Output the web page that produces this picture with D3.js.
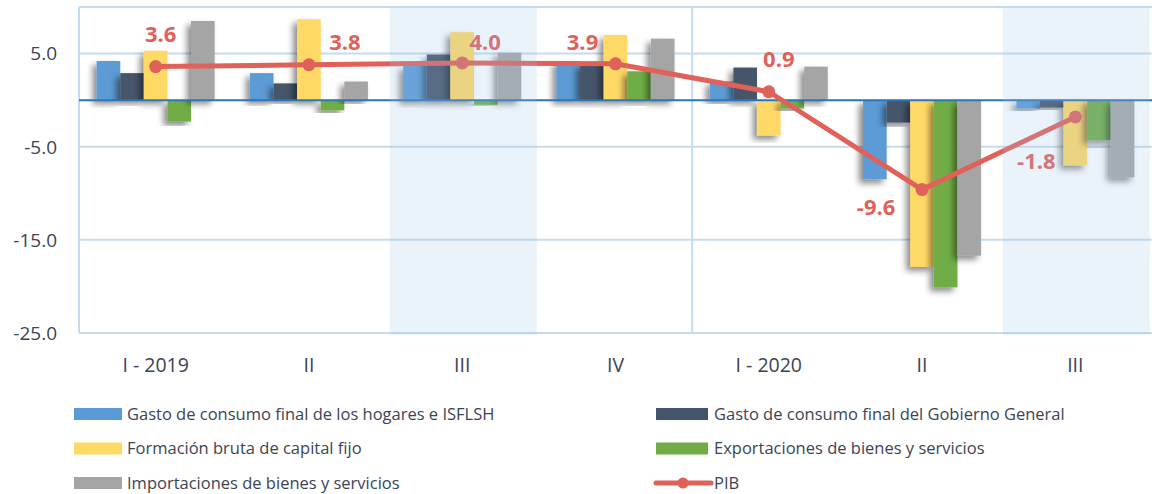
<!DOCTYPE html>
<html>
<head>
<meta charset="utf-8">
<script src="https://cdn.jsdelivr.net/npm/d3@7"></script>
<style>
  html, body { margin: 0; padding: 0; background: #fff; }
  svg { display: block; font-family: "Open Sans", "Noto Sans", sans-serif; }
</style>
</head>
<body>
<svg id="chart" width="1152" height="494"></svg>
<script>
// quarters
var categories = ["I - 2019", "II", "III", "IV", "I - 2020", "II", "III"];
var highlighted = [2, 6];

var seriesNames = [
  "Gasto de consumo final de los hogares e ISFLSH",
  "Gasto de consumo final del Gobierno General",
  "Formación bruta de capital fijo",
  "Exportaciones de bienes y servicios",
  "Importaciones de bienes y servicios"
];
var hogares     = [4.2, 2.9, 3.7, 4.2, 2.0, -8.5, -0.9];
var gobierno    = [2.9, 1.8, 4.9, 3.9, 3.5, -2.4, -0.8];
var formacion   = [5.3, 8.7, 7.3, 7.0, -3.8, -17.9, -7.0];
var exportacion = [-2.3, -1.1, -0.5, 3.1, -0.9, -20.1, -4.3];
var importacion = [8.5, 2.0, 5.1, 6.6, 3.6, -16.7, -8.3];
var pibName = "PIB";
var pib = [3.6, 3.8, 4.0, 3.9, 0.9, -9.6, -1.8];

var yTicks = [5, -5, -15, -25];

var colors = ["#5b9bd5", "#44546a", "#ffd966", "#70ad47", "#a5a5a5"];
var pibColor = "#e0615a";
var textColor = "#3c4454";

var series = [hogares, gobierno, formacion, exportacion, importacion];
var fmt = d => d.toFixed(1);

var svg = d3.select("#chart");
var margin = {top: 7, left: 79, right: 0, bottom: 161};
var W = 1152, H = 494;
var plotH = 333 - margin.top;

var x = d3.scaleBand().domain(d3.range(categories.length))
  .range([margin.left, W - margin.right]);
var xs = d3.scaleBand().domain(d3.range(series.length))
  .range([0, 118]);
var y = d3.scaleLinear().domain([-25, 10]).range([margin.top + plotH, margin.top]);

// shadow filter
var defs = svg.append("defs");
var f = defs.append("filter").attr("id", "shadow")
  .attr("x", "-50%").attr("y", "-20%").attr("width", "200%").attr("height", "140%");
f.append("feDropShadow").attr("dx", -4).attr("dy", 4).attr("stdDeviation", 3)
  .attr("flood-color", "#000").attr("flood-opacity", 0.45);

// gridlines
svg.append("g").selectAll("line")
  .data(yTicks.concat([10]))
  .enter().append("line")
  .attr("x1", margin.left).attr("x2", W)
  .attr("y1", d => y(d)).attr("y2", d => y(d))
  .attr("stroke", "#c5dcf0").attr("stroke-width", 2);

// left axis line
svg.append("line")
  .attr("x1", margin.left).attr("x2", margin.left)
  .attr("y1", y(10)).attr("y2", y(-25))
  .attr("stroke", "#c5dcf0").attr("stroke-width", 2);

// year separator
svg.append("line")
  .attr("x1", x(4)).attr("x2", x(4))
  .attr("y1", y(10)).attr("y2", y(-25))
  .attr("stroke", "#c5dcf0").attr("stroke-width", 2);

// bars
var groups = svg.append("g").selectAll("g.grp")
  .data(categories)
  .enter().append("g").attr("class", "grp")
  .attr("transform", (d, i) => "translate(" + (x(i) + (x.bandwidth() - 118) / 2) + ",0)");

series.forEach(function(s, k) {
  groups.append("rect")
    .attr("x", xs(k))
    .attr("width", xs.bandwidth())
    .attr("y", (d, i) => y(Math.max(0, s[i])))
    .attr("height", (d, i) => Math.abs(y(s[i]) - y(0)))
    .attr("fill", colors[k])
    .attr("filter", "url(#shadow)");
});

// zero line
svg.append("line")
  .attr("x1", margin.left).attr("x2", W)
  .attr("y1", y(0)).attr("y2", y(0))
  .attr("stroke", "#2e75b6").attr("stroke-width", 2);

// PIB line
var cx = i => x(i) + x.bandwidth() / 2;
var line = d3.line().x((d, i) => cx(i)).y(d => y(d));
svg.append("path").datum(pib)
  .attr("d", line).attr("fill", "none")
  .attr("stroke", pibColor).attr("stroke-width", 5);

svg.append("g").selectAll("circle")
  .data(pib).enter().append("circle")
  .attr("cx", (d, i) => cx(i)).attr("cy", d => y(d)).attr("r", 6.5)
  .attr("fill", pibColor);

// label nudges (dx, dy) from the point
var labelNudge = [[5, -25], [36, -15], [23, -13], [-33, -14], [10, -25], [-46, 25], [-39, 52]];
svg.append("g").selectAll("text")
  .data(pib).enter().append("text")
  .attr("x", (d, i) => cx(i) + labelNudge[i][0])
  .attr("y", (d, i) => y(d) + labelNudge[i][1])
  .attr("text-anchor", "middle")
  .attr("font-size", 22).attr("font-weight", "bold")
  .attr("fill", pibColor)
  .text(fmt);

// highlight bands (drawn on top, translucent)
svg.append("g").selectAll("rect")
  .data(highlighted).enter().append("rect")
  .attr("x", d => x(d) + x.bandwidth() / 2 - 73.5 + 1)
  .attr("width", 147)
  .attr("y", y(10) + 1)
  .attr("height", y(-25) - y(10) + 1)
  .attr("fill", "#9bc1e7").attr("opacity", 0.21);

// y tick labels
svg.append("g").selectAll("text")
  .data(yTicks).enter().append("text")
  .attr("x", 57).attr("y", d => y(d))
  .attr("dy", "0.36em")
  .attr("text-anchor", "end")
  .attr("font-size", 19).attr("fill", textColor)
  .text(fmt);

// x labels
svg.append("g").selectAll("text")
  .data(categories).enter().append("text")
  .attr("x", (d, i) => cx(i)).attr("y", 372)
  .attr("text-anchor", "middle")
  .attr("font-size", 19.5).attr("fill", textColor)
  .text(d => d);

// legend
var legendItems = seriesNames.map((n, k) => ({name: n, color: colors[k], type: "bar"}))
  .concat([{name: pibName, color: pibColor, type: "line"}]);
var legend = svg.append("g").selectAll("g")
  .data(legendItems).enter().append("g")
  .attr("transform", (d, i) => "translate(" + (i % 2 ? 656 : 74) + "," + (414 + Math.floor(i / 2) * 34.5) + ")");

legend.filter(d => d.type === "bar").append("rect")
  .attr("x", 0).attr("y", -6).attr("width", (d, i) => i % 2 ? 52 : 48).attr("height", 12)
  .attr("fill", d => d.color);
legend.filter(d => d.type === "line").append("line")
  .attr("x1", 0).attr("x2", 55).attr("y1", 0).attr("y2", 0)
  .attr("stroke", d => d.color).attr("stroke-width", 5).attr("stroke-linecap", "round");
legend.filter(d => d.type === "line").append("circle")
  .attr("cx", 27).attr("cy", 0).attr("r", 5.5).attr("fill", d => d.color);
legend.append("text")
  .attr("x", (d, i) => i % 2 ? 58 : 53).attr("y", 0).attr("dy", "0.35em")
  .attr("font-size", 16.5).attr("fill", textColor)
  .text(d => d.name);
</script>
</body>
</html>
